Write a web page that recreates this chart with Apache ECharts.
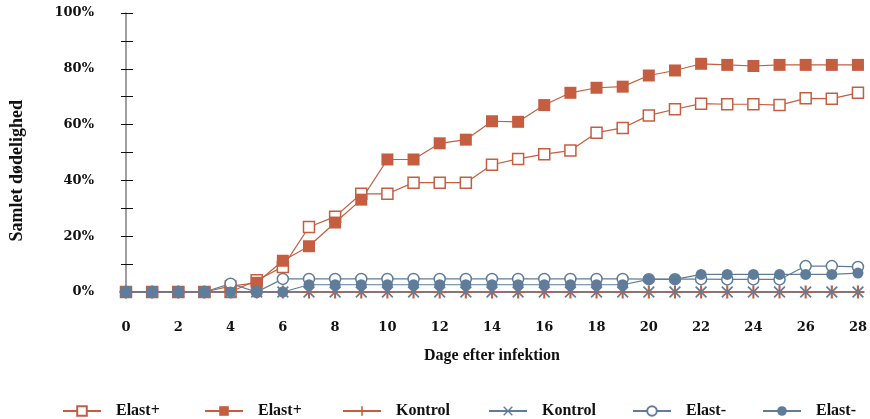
<!DOCTYPE html>
<html><head><meta charset="utf-8">
<script src="https://cdn.jsdelivr.net/npm/echarts@6/dist/echarts.min.js"></script>
<style>html,body{margin:0;padding:0;background:#fff}#c{width:870px;height:419px}</style>
</head><body><div id="c"></div>
<script>
const days = [0,1,2,3,4,5,6,7,8,9,10,11,12,13,14,15,16,17,18,19,20,21,22,23,24,25,26,27,28];
const elastPlusOpen   = [0,0,0,0,0,4.2,9,23.3,27,35.2,35.2,39.2,39.2,39.2,45.6,47.7,49.4,50.7,57.1,58.8,63.3,65.5,67.5,67.3,67.3,67,69.4,69.3,71.4];
const elastPlusFilled = [0,0,0,0,2.1,3.3,11.2,16.4,24.9,33.1,47.5,47.5,53.3,54.6,61.2,61,67,71.4,73.2,73.6,77.6,79.4,81.8,81.4,81,81.4,81.4,81.4,81.4];
const kontrolPlus     = [0,0,0,0,0,0,0,0,0,0,0,0,0,0,0,0,0,0,0,0,0,0,0,0,0,0,0,0,0];
const kontrolX        = [0,0,0,0,0,0,0,0,0,0,0,0,0,0,0,0,0,0,0,0,0,0,0,0,0,0,0,0,0];
const elastMinusOpen  = [0,0,0,0,3,0,4.7,4.7,4.7,4.7,4.7,4.7,4.7,4.7,4.7,4.7,4.7,4.7,4.7,4.7,4.6,4.6,4.6,4.5,4.5,4.5,9.3,9.3,9.0];
const elastMinusFilled= [0,0,0,0,0,0,0,2.6,2.6,2.6,2.6,2.6,2.6,2.6,2.6,2.6,2.6,2.6,2.6,2.6,4.5,4.5,6.3,6.3,6.3,6.3,6.3,6.3,6.8];
const yTicks = ['0%','20%','40%','60%','80%','100%'];
const xTitle = 'Dage efter infektion';
const yTitle = 'Samlet dødelighed';
const labels = {a:'Elast+', b:'Elast+', c:'Kontrol', d:'Kontrol', e:'Elast-', f:'Elast-'};

const ORANGE = '#c55e40', BLUE = '#5f7d9b';
const FONT = '"Liberation Serif", "DejaVu Serif", serif';
const NUMFONT = '"DejaVu Serif", "Liberation Serif", serif';
const plusPath = 'path://M4.2,0H5.8V10H4.2Z M0,4.2H10V5.8H0Z';
const xPath = 'path://M1,0L10,9L9,10L0,1Z M9,0L10,1L1,10L0,9Z';
const pts = arr => arr.map((v,i)=>[days[i], v]);

const seriesDefs = [
  {key:'a', data:elastPlusOpen, color:ORANGE, symbol:'rect', size:11, fill:'#fff'},
  {key:'b', data:elastPlusFilled, color:ORANGE, symbol:'rect', size:12, fill:ORANGE},
  {key:'c', data:kontrolPlus, color:ORANGE, symbol:plusPath, size:13, fill:ORANGE},
  {key:'d', data:kontrolX, color:BLUE, symbol:xPath, size:12, fill:BLUE},
  {key:'e', data:elastMinusOpen, color:BLUE, symbol:'circle', size:11, fill:'#fff'},
  {key:'f', data:elastMinusFilled, color:BLUE, symbol:'circle', size:11, fill:BLUE}
];
const legendLeft = [62, 204, 342, 488, 632, 762];

const chart = echarts.init(document.getElementById('c'));
chart.setOption({
  animation:false,
  textStyle:{fontFamily:FONT},
  grid:{left:126, right:12, top:13, bottom:127, containLabel:false},
  legend: seriesDefs.map((s,i)=>({
    data:[s.key], left:legendLeft[i], top:403, itemWidth:38, itemHeight:12, padding:0,
    textStyle:{fontFamily:FONT, fontWeight:'bold', fontSize:16, color:'#111', padding:[0,0,0,10]},
    formatter: n => labels[n]
  })),
  xAxis:{type:'value', min:0, max:28, interval:2, offset:2,
    name:xTitle, nameLocation:'middle', nameGap:54,
    nameTextStyle:{fontFamily:FONT, fontWeight:'bold', fontSize:16, color:'#111'},
    axisLine:{show:true, lineStyle:{color:'#595959', width:1.5}},
    axisTick:{show:false}, splitLine:{show:false},
    axisLabel:{margin:27, fontFamily:NUMFONT, fontWeight:'bold', fontSize:13, color:'#111'}},
  yAxis:[
    {type:'value', min:0, max:100, interval:10, position:'left',
     axisLine:{show:true, lineStyle:{color:'#7f7f7f', width:1.5}},
     axisTick:{show:true, length:5, lineStyle:{color:'#111'}},
     splitLine:{show:false},
     axisLabel:{margin:32, fontFamily:NUMFONT, fontWeight:'bold', fontSize:13, color:'#111',
       formatter: v => (v % 20 === 0 ? yTicks[v/20] : '')}},
    {type:'value', min:0, max:100, interval:10, position:'left',
     axisLine:{show:false}, axisTick:{show:true, inside:true, length:7, lineStyle:{color:'#111'}},
     axisLabel:{show:false}, splitLine:{show:false}}
  ],
  graphic:[{type:'text', left:8, top:100, rotation:Math.PI/2,
    style:{text:yTitle, font:'bold 18px '+FONT, fill:'#111'}}],
  series: seriesDefs.map(s=>({
    name:s.key, type:'line', data:pts(s.data), symbol:s.symbol, symbolSize:s.size,
    showAllSymbol:true, z:2,
    lineStyle:{color:s.color, width:1.2},
    itemStyle:{color:s.fill, borderColor:s.color, borderWidth:(s.fill==='#fff'?1.5:0)},
    emphasis:{disabled:true}
  }))
});
</script></body></html>
